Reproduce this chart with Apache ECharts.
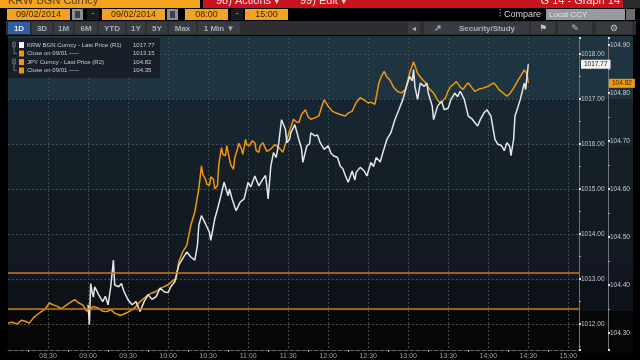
<!DOCTYPE html>
<html><head><meta charset="utf-8">
<script src="https://cdn.jsdelivr.net/npm/echarts/dist/echarts.min.js"></script>
<style>html,body{margin:0;padding:0;background:#000;overflow:hidden}#c{width:640px;height:360px;}</style>
</head><body><div id="c"></div>
<script>
// ---- data ----
const krwTimes = ['09:00','09:01','09:02','09:03','09:04','09:05','09:08','09:11','09:13','09:15','09:17','09:19','09:20','09:23','09:25','09:27','09:30','09:33','09:36','09:39','09:42','09:45','09:48','09:51','09:54','09:57','10:00','10:02','10:05','10:08','10:11','10:14','10:17','10:20','10:22','10:23','10:25','10:28','10:31','10:32','10:35','10:37','10:39','10:42','10:45','10:46','10:48','10:50','10:51','10:54','10:57','11:00','11:02','11:05','11:08','11:11','11:13','11:14','11:15','11:17','11:19','11:21','11:23','11:25','11:28','11:29','11:31','11:32','11:35','11:38','11:40','11:41','11:44','11:46','11:47','11:50','11:52','11:54','11:57','12:00','12:02','12:04','12:07','12:09','12:11','12:13','12:15','12:18','12:20','12:21','12:24','12:27','12:29','12:32','12:34','12:36','12:39','12:41','12:44','12:47','12:50','12:53','12:56','12:58','13:01','13:03','13:04','13:05','13:07','13:09','13:12','13:14','13:15','13:18','13:19','13:22','13:25','13:27','13:30','13:32','13:35','13:37','13:39','13:42','13:45','13:48','13:50','13:52','13:54','13:57','13:59','14:02','14:05','14:07','14:10','14:12','14:14','14:16','14:17','14:19','14:20','14:22','14:24','14:27','14:28','14:29','14:30'];
const krwValues = [1012.43,1011.99,1012.90,1012.72,1012.60,1012.83,1012.65,1012.50,1012.62,1012.43,1012.83,1013.42,1012.87,1012.83,1012.90,1012.72,1012.54,1012.43,1012.50,1012.28,1012.50,1012.65,1012.55,1012.61,1012.80,1012.72,1012.70,1012.83,1012.94,1013.31,1013.46,1013.60,1013.49,1013.42,1013.75,1014.19,1014.41,1014.23,1014.04,1013.86,1014.34,1014.55,1014.78,1015.15,1014.85,1015.00,1014.78,1014.60,1014.52,1014.71,1014.78,1015.15,1015.05,1015.29,1015.07,1015.22,1015.30,1015.07,1014.78,1015.51,1015.81,1015.70,1016.03,1016.54,1016.32,1016.03,1016.10,1016.25,1016.43,1016.10,1015.90,1015.59,1015.96,1016.00,1016.25,1016.18,1016.20,1016.03,1015.88,1015.96,1015.80,1015.74,1015.70,1015.51,1015.45,1015.29,1015.15,1015.40,1015.20,1015.37,1015.48,1015.40,1015.29,1015.59,1015.50,1015.70,1015.60,1015.81,1016.10,1016.25,1016.54,1016.76,1016.99,1017.21,1017.50,1017.40,1017.65,1017.28,1016.99,1017.35,1017.28,1017.35,1017.13,1016.84,1016.54,1016.84,1016.95,1016.76,1016.80,1016.99,1017.13,1017.05,1017.17,1016.99,1016.62,1016.55,1016.47,1016.40,1016.54,1016.70,1016.76,1016.62,1016.10,1016.00,1015.96,1015.85,1016.03,1015.95,1015.74,1016.10,1016.62,1016.80,1016.99,1017.35,1017.21,1017.50,1017.77];
const jpyTimes = ['08:00','08:03','08:07','08:10','08:13','08:16','08:19','08:22','08:25','08:28','08:31','08:34','08:37','08:40','08:44','08:47','08:50','08:53','08:56','08:59','09:01','09:04','09:08','09:11','09:14','09:17','09:20','09:24','09:27','09:30','09:33','09:36','09:39','09:42','09:45','09:48','09:51','09:54','09:57','10:00','10:03','10:06','10:08','10:11','10:14','10:17','10:20','10:23','10:25','10:26','10:28','10:29','10:31','10:32','10:34','10:35','10:37','10:38','10:40','10:41','10:43','10:44','10:46','10:47','10:49','10:50','10:52','10:53','10:55','10:56','10:58','10:59','11:01','11:03','11:05','11:06','11:08','11:09','11:11','11:14','11:17','11:20','11:23','11:26','11:29','11:31','11:34','11:36','11:38','11:40','11:43','11:45','11:47','11:50','11:53','11:55','11:57','12:00','12:03','12:06','12:09','12:13','12:15','12:18','12:21','12:24','12:27','12:30','12:32','12:35','12:38','12:40','12:42','12:44','12:46','12:49','12:52','12:55','12:58','13:01','13:04','13:07','13:10','13:13','13:16','13:19','13:22','13:24','13:26','13:28','13:30','13:32','13:34','13:36','13:39','13:41','13:43','13:45','13:48','13:50','13:53','13:56','14:00','14:04','14:06','14:08','14:11','14:14','14:16','14:19','14:22','14:24','14:27','14:29','14:30'];
const jpyValues = [104.320,104.322,104.318,104.326,104.324,104.320,104.331,104.338,104.344,104.350,104.362,104.358,104.355,104.350,104.358,104.364,104.369,104.362,104.358,104.345,104.348,104.355,104.351,104.345,104.344,104.348,104.341,104.336,104.339,104.343,104.348,104.355,104.365,104.372,104.379,104.383,104.386,104.392,104.396,104.400,104.407,104.413,104.448,104.469,104.482,104.524,104.551,104.600,104.648,104.630,104.620,104.610,104.607,104.625,104.620,104.600,104.607,104.650,104.686,104.672,104.669,104.690,104.662,104.650,104.641,104.665,104.683,104.695,104.683,104.672,104.703,104.692,104.690,104.700,104.696,104.680,104.676,104.690,104.696,104.678,104.683,104.692,104.686,104.676,104.703,104.720,104.745,104.740,104.738,104.755,104.765,104.750,104.745,104.748,104.752,104.770,104.786,104.772,104.762,104.758,104.755,104.752,104.758,104.762,104.780,104.790,104.785,104.779,104.781,104.776,104.821,104.835,104.845,104.833,104.828,104.812,104.803,104.800,104.807,104.841,104.865,104.841,104.830,104.821,104.808,104.800,104.785,104.779,104.784,104.790,104.805,104.814,104.818,104.824,104.812,104.807,104.815,104.821,104.810,104.803,104.808,104.810,104.814,104.821,104.815,104.807,104.800,104.793,104.798,104.810,104.825,104.834,104.848,104.840,104.821];
const closeValues = [1013.15, 104.35];
const lastPrices = [1017.77, 104.82];
const legendNames = ['KRW BGN Curncy - Last Price (R1)', 'Close on 09/01 -----', 'JPY Curncy - Last Price (R2)', 'Close on 09/01 -----'];
const legendValues = ['1017.77', '1013.15', '104.82', '104.35'];
const xTickLabels = ['08:30','09:00','09:30','10:00','10:30','11:00','11:30','12:00','12:30','13:00','13:30','14:00','14:30','15:00'];
const periodButtons = ['1D','3D','1M','6M','YTD','1Y','5Y','Max','1 Min \u25BC'];

// ---- helpers ----
const toMin = s => { const p = s.split(':'); return +p[0] * 60 + +p[1]; };
const toHHMM = m => { const h = Math.floor(m / 60), mm = Math.round(m % 60); return String(h).padStart(2,'0') + ':' + String(mm).padStart(2,'0'); };
const krwData = krwTimes.map((t, i) => [toMin(t), krwValues[i]]);
const jpyData = jpyTimes.map((t, i) => [toMin(t), jpyValues[i]]);

const F = 'Liberation Sans';
const ORANGE = '#f0960f';
const chart = echarts.init(document.getElementById('c'), null, {renderer: 'canvas'});

const g = [];
// background bands
g.push({type:'rect', z:-100, silent:true, shape:{x:8,y:36,width:625,height:317},
  style:{fill:new echarts.graphic.LinearGradient(0,0,0,1,[
    {offset:0,color:'#1e3541'},{offset:0.199,color:'#1e3541'},
    {offset:0.2,color:'#172530'},{offset:0.345,color:'#172530'},
    {offset:0.346,color:'#142026'},{offset:0.487,color:'#142026'},
    {offset:0.488,color:'#121b21'},{offset:0.68,color:'#121b21'},
    {offset:0.681,color:'#141926'},{offset:0.772,color:'#121620'},
    {offset:0.773,color:'#0d1118'},{offset:0.866,color:'#0d1118'},
    {offset:0.867,color:'#060607'},{offset:1,color:'#060607'}])}});
// row 1
g.push({type:'rect', z:100, shape:{x:0,y:0,width:200,height:8}, style:{fill:'#f5a21e'}});
g.push({type:'text', z:101, x:8, y:0.5, style:{text:'KRW BGN Curncy', font:'11px '+F, fill:'#5a4010', verticalAlign:'middle'}});
g.push({type:'rect', z:100, shape:{x:203,y:0,width:420,height:8}, style:{fill:'#c8141e'}});
g.push({type:'rect', z:100, shape:{x:623,y:0,width:17,height:8}, style:{fill:'#2a2a2a'}});
g.push({type:'text', z:101, x:216, y:0.5, style:{text:'98) Actions \u25BE', font:'11px '+F, fill:'#ffd8d8', verticalAlign:'middle'}});
g.push({type:'text', z:101, x:300, y:0.5, style:{text:'99) Edit \u25BE', font:'11px '+F, fill:'#ffd8d8', verticalAlign:'middle'}});
g.push({type:'text', z:101, x:620, y:0.5, style:{text:'G 14 - Graph 14', font:'11px '+F, fill:'#ffe0e0', align:'right', verticalAlign:'middle'}});
// row 2
const orangeBox = (x, w, t) => {
  g.push({type:'rect', z:100, shape:{x:x,y:9,width:w,height:11}, style:{fill:'#f5a21e'}});
  g.push({type:'text', z:101, x:x+w/2, y:14.5, style:{text:t, font:'9px '+F, fill:'#3a2800', align:'center', verticalAlign:'middle'}});
};
orangeBox(7, 63, '09/02/2014');
orangeBox(102, 63, '09/02/2014');
orangeBox(185, 43, '08:00');
orangeBox(245, 43, '15:00');
[72, 167].forEach(x => {
  g.push({type:'rect', z:100, shape:{x:x,y:9,width:11,height:11}, style:{fill:'#8c9096'}});
  g.push({type:'rect', z:101, shape:{x:x+3,y:11,width:5,height:7}, style:{fill:'#3c4046'}});
});
[87, 231].forEach(x => {
  g.push({type:'rect', z:100, shape:{x:x,y:9,width:12,height:11}, style:{fill:'#1c1c1c'}});
  g.push({type:'text', z:101, x:x+6, y:14, style:{text:'-', font:'9px '+F, fill:'#f5a21e', align:'center', verticalAlign:'middle'}});
});
g.push({type:'text', z:101, x:541, y:14.5, style:{text:'\u2AF6 Compare', font:'9px '+F, fill:'#d8d8d8', align:'right', verticalAlign:'middle'}});
g.push({type:'rect', z:100, shape:{x:546,y:9,width:79,height:11}, style:{fill:'#979ba0'}});
g.push({type:'text', z:101, x:549, y:14.5, style:{text:'Local CCY', font:'8px '+F, fill:'#dfe2e6', verticalAlign:'middle'}});
g.push({type:'rect', z:100, shape:{x:626,y:9,width:9,height:11}, style:{fill:'#6a6e74'}});
// row 3 toolbar
g.push({type:'rect', z:100, shape:{x:6,y:21,width:630,height:14}, style:{fill:'#2c2e32'}});
const btnX = [8, 32, 54, 75, 99, 127, 147, 169, 198];
const btnW = [22, 20, 19, 22, 26, 18, 20, 27, 42];
periodButtons.forEach((t, i) => {
  g.push({type:'rect', z:100, shape:{x:btnX[i],y:22,width:btnW[i],height:12}, style:{fill: i === 0 ? '#2d5f9e' : '#383b40'}});
  g.push({type:'text', z:101, x:btnX[i]+btnW[i]/2, y:28.5, style:{text:t, font:'bold 8px '+F, fill: i === 0 ? '#e8eef6' : '#a9aeb4', align:'center', verticalAlign:'middle'}});
});
g.push({type:'rect', z:100, shape:{x:408,y:22,width:12,height:12}, style:{fill:'#383b40'}});
g.push({type:'text', z:101, x:414, y:28.5, style:{text:'\u25C2', font:'8px '+F, fill:'#a9aeb4', align:'center', verticalAlign:'middle'}});
g.push({type:'rect', z:100, shape:{x:424,y:22,width:105,height:12}, style:{fill:'#383b40'}});
g.push({type:'text', z:101, x:438, y:28.5, style:{text:'\u2197', font:'bold 9px '+F, fill:'#a9aeb4', align:'center', verticalAlign:'middle'}});
g.push({type:'text', z:101, x:487, y:28.5, style:{text:'Security/Study', font:'bold 8px '+F, fill:'#a9aeb4', align:'center', verticalAlign:'middle'}});
[[531,24,'\u2691'],[558,34,'\u270E'],[596,36,'\u2699']].forEach(([x,w,t]) => {
  g.push({type:'rect', z:100, shape:{x:x,y:22,width:w,height:12}, style:{fill:'#383b40'}});
  g.push({type:'text', z:101, x:x+w/2, y:28.5, style:{text:t, font:'9px DejaVu Sans', fill:'#c0c4c8', align:'center', verticalAlign:'middle'}});
});
// legend box
g.push({type:'rect', z:50, shape:{x:8,y:38,width:152,height:40}, style:{fill:'#172029'}});
const legColors = ['#f2f2f2', ORANGE, ORANGE, ORANGE];
const rowY = [45, 53.5, 62, 70.5];
legendNames.forEach((n, i) => {
  g.push({type:'rect', z:51, shape:{x:19,y:rowY[i]-3,width:5,height:6}, style:{fill:legColors[i]}});
  g.push({type:'text', z:51, x:27, y:rowY[i], style:{text:n, font:'6px '+F, fill:'#c8ccd0', verticalAlign:'middle'}});
  g.push({type:'text', z:51, x:133, y:rowY[i], style:{text:legendValues[i], font:'6px '+F, fill:'#c8ccd0', verticalAlign:'middle'}});
});
[[45,53.5],[62,70.5]].forEach(([a,b]) => {
  g.push({type:'polyline', z:51, shape:{points:[[14,a-3],[14,b],[17,b]]}, style:{stroke:'#7a8088', lineWidth:0.8, fill:null}});
  g.push({type:'rect', z:51, shape:{x:12.5,y:a-3,width:3,height:5}, style:{fill:null, stroke:'#7a8088', lineWidth:0.6}});
});

const yAxisCommon = {
  type:'value', position:'right', scale:true,
  axisLine:{show:true, lineStyle:{color:'#6d7379', width:1}},
  axisTick:{show:true, length:2, lineStyle:{color:'#e0e0e0', width:2}},
  minorTick:{show:true, splitNumber:2, length:2, lineStyle:{color:'#9aa0a6', width:1}},
  axisLabel:{show:true, margin:2, fontSize:6.5, fontFamily:F, color:'#c4c8cc', showMinLabel:false, showMaxLabel:false, formatter:v => v.toFixed(2)}
};
const tagLabel = (txt, bg, fg, dist) => ({show:true, position:'end', distance:dist, formatter:txt,
  backgroundColor:bg, color:fg, fontSize:6.5, fontFamily:F, padding:[1,3,1,3], opacity:1});

chart.setOption({
  backgroundColor:'#000',
  animation:false,
  graphic:g,
  grid:{left:8, right:61, top:38, bottom:8, containLabel:false},
  xAxis:{
    type:'value', min:480, max:908, interval:30,
    axisLine:{show:true, lineStyle:{color:'#5e646a', type:'dashed', width:1}},
    axisTick:{show:false},
    minorTick:{show:true, splitNumber:2, length:2, lineStyle:{color:'#9aa0a6'}},
    axisLabel:{margin:3, fontSize:7, fontFamily:F, color:'#9ca0a4', showMinLabel:false, showMaxLabel:false,
      formatter:v => { const s = toHHMM(v); return xTickLabels.indexOf(s) >= 0 ? s : ''; }},
    splitLine:{show:true, showMinLine:false, showMaxLine:false, lineStyle:{color:'#3f4a54', type:[2,2], width:1}}
  },
  yAxis:[
    Object.assign({}, yAxisCommon, {min:1011.426, max:1018.353, splitNumber:7,
      splitLine:{show:true, showMinLine:false, showMaxLine:false, lineStyle:{color:'#3f4a54', type:[2,2], width:1}}}),
    Object.assign({}, yAxisCommon, {min:104.264, max:104.9145, splitNumber:7, offset:29, splitLine:{show:false}})
  ],
  series:[
    {type:'line', name:'JPY', yAxisIndex:1, data:jpyData, showSymbol:false, symbol:'none',
      lineStyle:{color:ORANGE, width:1.5}, z:3,
      markLine:{silent:true, symbol:['none','none'], animation:false,
        data:[
          {yAxis:closeValues[1], lineStyle:{color:'#c97a10', width:1.5, type:'solid'}, label:{show:false}},
          {yAxis:lastPrices[1], lineStyle:{color:'rgba(0,0,0,0)', width:0}, label:tagLabel(lastPrices[1].toFixed(2), '#f39a14', '#3a2400', 30)}
        ]}},
    {type:'line', name:'KRW', yAxisIndex:0, data:krwData, showSymbol:false, symbol:'none',
      lineStyle:{color:'#e6e6e6', width:1.5}, z:4,
      markLine:{silent:true, symbol:['none','none'], animation:false,
        data:[
          {yAxis:closeValues[0], lineStyle:{color:'#c97a10', width:1.5, type:'solid'}, label:{show:false}},
          {yAxis:lastPrices[0], lineStyle:{color:'rgba(0,0,0,0)', width:0}, label:tagLabel(lastPrices[0].toFixed(2), '#f4f4f4', '#111', 2)}
        ]}}
  ]
});
</script></body></html>
